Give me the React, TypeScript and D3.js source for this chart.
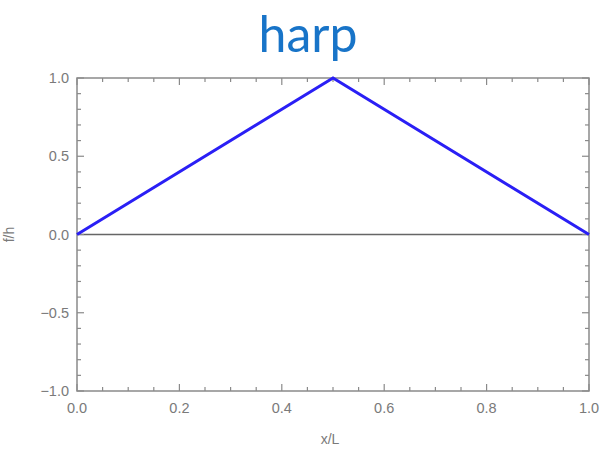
import React from "react";
import * as d3 from "d3";

const xs = [0, 0.5, 1];
const ys = [0, 1, 0];
const xTicks = [0, 0.2, 0.4, 0.6, 0.8, 1.0];
const yTicks = [-1, -0.5, 0, 0.5, 1];
const xMinor = d3.range(0, 1.0001, 0.05);
const yMinor = d3.range(-1, 1.0001, 0.1);

const W = 615;
const H = 454;
const M = { left: 77, right: 589, top: 78, bottom: 391 };

export default function App() {
  const x = d3.scaleLinear().domain([0, 1]).range([M.left, M.right]);
  const y = d3.scaleLinear().domain([-1, 1]).range([M.bottom, M.top]);
  const line = d3
    .line<number>()
    .x((_, i) => x(xs[i]))
    .y((d) => y(d));
  const frame = "#8a8a8a";
  const label = "#7a7a7a";
  const font = "Liberation Sans, Arial, sans-serif";
  const isMajorX = (v: number) => xTicks.some((t) => Math.abs(t - v) < 1e-6);
  const isMajorY = (v: number) => yTicks.some((t) => Math.abs(t - v) < 1e-6);
  return (
    <svg
      width={W}
      height={H}
      style={{ position: "absolute", left: 0, top: 0, background: "#fff" }}
    >
      <text
        x={308}
        y={52}
        textAnchor="middle"
        fontFamily="Lato, sans-serif"
        fontSize={50}
        fill="#1874c8"
      >
        harp
      </text>

      {/* zero line */}
      <line x1={x(0)} x2={x(1)} y1={y(0)} y2={y(0)} stroke="#666" strokeWidth={1.5} />

      {/* ticks on all four sides, pointing inward */}
      {xMinor.map((v, i) => {
        const len = isMajorX(v) ? 7 : 4;
        return (
          <g key={"xt" + i}>
            <line x1={x(v)} x2={x(v)} y1={M.bottom} y2={M.bottom - len} stroke={frame} strokeWidth={1.2} />
            <line x1={x(v)} x2={x(v)} y1={M.top} y2={M.top + len} stroke={frame} strokeWidth={1.2} />
          </g>
        );
      })}
      {yMinor.map((v, i) => {
        const len = isMajorY(v) ? 7 : 4;
        return (
          <g key={"yt" + i}>
            <line x1={M.left} x2={M.left + len} y1={y(v)} y2={y(v)} stroke={frame} strokeWidth={1.2} />
            <line x1={M.right} x2={M.right - len} y1={y(v)} y2={y(v)} stroke={frame} strokeWidth={1.2} />
          </g>
        );
      })}

      <rect
        x={M.left}
        y={M.top}
        width={M.right - M.left}
        height={M.bottom - M.top}
        fill="none"
        stroke={frame}
        strokeWidth={1.5}
      />

      <path d={line(ys) || ""} fill="none" stroke="#2a1ff5" strokeWidth={3} strokeLinejoin="miter" />

      {xTicks.map((t) => (
        <text
          key={"xl" + t}
          x={x(t)}
          y={413}
          textAnchor="middle"
          fontFamily={font}
          fontSize={14.5}
          fill={label}
        >
          {t.toFixed(1)}
        </text>
      ))}
      {yTicks.map((t) => (
        <text
          key={"yl" + t}
          x={69}
          y={y(t) + 5}
          textAnchor="end"
          fontFamily={font}
          fontSize={14.5}
          fill={label}
        >
          {t < 0 ? "\u2212" + Math.abs(t).toFixed(1) : t.toFixed(1)}
        </text>
      ))}

      <text x={330} y={444} textAnchor="middle" fontFamily={font} fontSize={14} fill={label}>
        x/L
      </text>
      <text
        transform={`translate(14, ${y(0)}) rotate(-90)`}
        textAnchor="middle"
        fontFamily={font}
        fontSize={14}
        fill={label}
      >
        f/h
      </text>
    </svg>
  );
}
